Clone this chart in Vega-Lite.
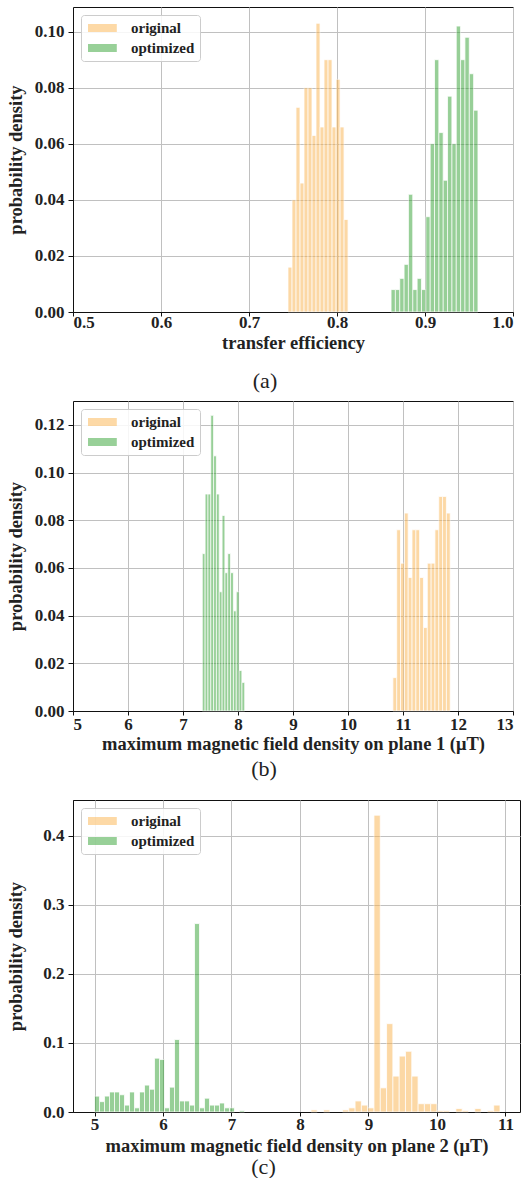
{
  "$schema": "https://vega.github.io/schema/vega-lite/v6.json",
  "padding": {"left": 5, "top": 6, "right": 0, "bottom": 0},
  "background": "white",
  "datasets": {
    "a": [
      {"series": "original", "x0": 0.74430, "x1": 0.74885, "density": 0.016},
      {"series": "original", "x0": 0.74885, "x1": 0.75340, "density": 0.040},
      {"series": "original", "x0": 0.75340, "x1": 0.75795, "density": 0.073},
      {"series": "original", "x0": 0.75795, "x1": 0.76250, "density": 0.046},
      {"series": "original", "x0": 0.76250, "x1": 0.76705, "density": 0.080},
      {"series": "original", "x0": 0.76705, "x1": 0.77160, "density": 0.080},
      {"series": "original", "x0": 0.77160, "x1": 0.77615, "density": 0.063},
      {"series": "original", "x0": 0.77615, "x1": 0.78070, "density": 0.103},
      {"series": "original", "x0": 0.78070, "x1": 0.78525, "density": 0.066},
      {"series": "original", "x0": 0.78525, "x1": 0.78980, "density": 0.090},
      {"series": "original", "x0": 0.78980, "x1": 0.79435, "density": 0.090},
      {"series": "original", "x0": 0.79435, "x1": 0.79890, "density": 0.066},
      {"series": "original", "x0": 0.79890, "x1": 0.80345, "density": 0.083},
      {"series": "original", "x0": 0.80345, "x1": 0.80800, "density": 0.066},
      {"series": "original", "x0": 0.80800, "x1": 0.81255, "density": 0.033},
      {"series": "optimized", "x0": 0.86140, "x1": 0.86634, "density": 0.008},
      {"series": "optimized", "x0": 0.86634, "x1": 0.87128, "density": 0.008},
      {"series": "optimized", "x0": 0.87128, "x1": 0.87622, "density": 0.012},
      {"series": "optimized", "x0": 0.87622, "x1": 0.88116, "density": 0.017},
      {"series": "optimized", "x0": 0.88116, "x1": 0.88610, "density": 0.042},
      {"series": "optimized", "x0": 0.88610, "x1": 0.89104, "density": 0.008},
      {"series": "optimized", "x0": 0.89104, "x1": 0.89598, "density": 0.012},
      {"series": "optimized", "x0": 0.89598, "x1": 0.90092, "density": 0.008},
      {"series": "optimized", "x0": 0.90092, "x1": 0.90586, "density": 0.034},
      {"series": "optimized", "x0": 0.90586, "x1": 0.91080, "density": 0.060},
      {"series": "optimized", "x0": 0.91080, "x1": 0.91574, "density": 0.090},
      {"series": "optimized", "x0": 0.91574, "x1": 0.92068, "density": 0.064},
      {"series": "optimized", "x0": 0.92068, "x1": 0.92562, "density": 0.047},
      {"series": "optimized", "x0": 0.92562, "x1": 0.93056, "density": 0.077},
      {"series": "optimized", "x0": 0.93056, "x1": 0.93550, "density": 0.060},
      {"series": "optimized", "x0": 0.93550, "x1": 0.94044, "density": 0.102},
      {"series": "optimized", "x0": 0.94044, "x1": 0.94538, "density": 0.090},
      {"series": "optimized", "x0": 0.94538, "x1": 0.95032, "density": 0.098},
      {"series": "optimized", "x0": 0.95032, "x1": 0.95526, "density": 0.085},
      {"series": "optimized", "x0": 0.95526, "x1": 0.96020, "density": 0.072}
    ],
    "b": [
      {"series": "original", "x0": 10.8160, "x1": 10.8855, "density": 0.014},
      {"series": "original", "x0": 10.8855, "x1": 10.9550, "density": 0.076},
      {"series": "original", "x0": 10.9550, "x1": 11.0245, "density": 0.062},
      {"series": "original", "x0": 11.0245, "x1": 11.0940, "density": 0.083},
      {"series": "original", "x0": 11.0940, "x1": 11.1635, "density": 0.056},
      {"series": "original", "x0": 11.1635, "x1": 11.2330, "density": 0.076},
      {"series": "original", "x0": 11.2330, "x1": 11.3025, "density": 0.076},
      {"series": "original", "x0": 11.3025, "x1": 11.3720, "density": 0.056},
      {"series": "original", "x0": 11.3720, "x1": 11.4415, "density": 0.035},
      {"series": "original", "x0": 11.4415, "x1": 11.5110, "density": 0.062},
      {"series": "original", "x0": 11.5110, "x1": 11.5805, "density": 0.062},
      {"series": "original", "x0": 11.5805, "x1": 11.6500, "density": 0.076},
      {"series": "original", "x0": 11.6500, "x1": 11.7195, "density": 0.090},
      {"series": "original", "x0": 11.7195, "x1": 11.7890, "density": 0.090},
      {"series": "original", "x0": 11.7890, "x1": 11.8585, "density": 0.083},
      {"series": "optimized", "x0": 7.3500, "x1": 7.4015, "density": 0.066},
      {"series": "optimized", "x0": 7.4015, "x1": 7.4530, "density": 0.091},
      {"series": "optimized", "x0": 7.4530, "x1": 7.5045, "density": 0.091},
      {"series": "optimized", "x0": 7.5045, "x1": 7.5560, "density": 0.124},
      {"series": "optimized", "x0": 7.5560, "x1": 7.6075, "density": 0.107},
      {"series": "optimized", "x0": 7.6075, "x1": 7.6590, "density": 0.091},
      {"series": "optimized", "x0": 7.6590, "x1": 7.7105, "density": 0.050},
      {"series": "optimized", "x0": 7.7105, "x1": 7.7620, "density": 0.082},
      {"series": "optimized", "x0": 7.7620, "x1": 7.8135, "density": 0.058},
      {"series": "optimized", "x0": 7.8135, "x1": 7.8650, "density": 0.066},
      {"series": "optimized", "x0": 7.8650, "x1": 7.9165, "density": 0.058},
      {"series": "optimized", "x0": 7.9165, "x1": 7.9680, "density": 0.042},
      {"series": "optimized", "x0": 7.9680, "x1": 8.0195, "density": 0.050},
      {"series": "optimized", "x0": 8.0195, "x1": 8.0710, "density": 0.017},
      {"series": "optimized", "x0": 8.0710, "x1": 8.1225, "density": 0.012}
    ],
    "c": [
      {"series": "original", "x0": 8.160, "x1": 8.252, "density": 0.003},
      {"series": "original", "x0": 8.344, "x1": 8.436, "density": 0.003},
      {"series": "original", "x0": 8.620, "x1": 8.712, "density": 0.003},
      {"series": "original", "x0": 8.712, "x1": 8.804, "density": 0.006},
      {"series": "original", "x0": 8.804, "x1": 8.896, "density": 0.016},
      {"series": "original", "x0": 8.896, "x1": 8.988, "density": 0.010},
      {"series": "original", "x0": 8.988, "x1": 9.080, "density": 0.006},
      {"series": "original", "x0": 9.080, "x1": 9.172, "density": 0.430},
      {"series": "original", "x0": 9.172, "x1": 9.264, "density": 0.035},
      {"series": "original", "x0": 9.264, "x1": 9.356, "density": 0.128},
      {"series": "original", "x0": 9.356, "x1": 9.448, "density": 0.052},
      {"series": "original", "x0": 9.448, "x1": 9.540, "density": 0.081},
      {"series": "original", "x0": 9.540, "x1": 9.632, "density": 0.088},
      {"series": "original", "x0": 9.632, "x1": 9.724, "density": 0.052},
      {"series": "original", "x0": 9.724, "x1": 9.816, "density": 0.012},
      {"series": "original", "x0": 9.816, "x1": 9.908, "density": 0.012},
      {"series": "original", "x0": 9.908, "x1": 10.000, "density": 0.012},
      {"series": "original", "x0": 10.000, "x1": 10.092, "density": 0.002},
      {"series": "original", "x0": 10.092, "x1": 10.184, "density": 0.002},
      {"series": "original", "x0": 10.276, "x1": 10.368, "density": 0.005},
      {"series": "original", "x0": 10.368, "x1": 10.460, "density": 0.002},
      {"series": "original", "x0": 10.552, "x1": 10.644, "density": 0.005},
      {"series": "original", "x0": 10.736, "x1": 10.828, "density": 0.002},
      {"series": "original", "x0": 10.828, "x1": 10.920, "density": 0.010},
      {"series": "optimized", "x0": 5.000, "x1": 5.073, "density": 0.023},
      {"series": "optimized", "x0": 5.073, "x1": 5.146, "density": 0.015},
      {"series": "optimized", "x0": 5.146, "x1": 5.219, "density": 0.023},
      {"series": "optimized", "x0": 5.219, "x1": 5.292, "density": 0.029},
      {"series": "optimized", "x0": 5.292, "x1": 5.365, "density": 0.029},
      {"series": "optimized", "x0": 5.365, "x1": 5.438, "density": 0.025},
      {"series": "optimized", "x0": 5.438, "x1": 5.511, "density": 0.010},
      {"series": "optimized", "x0": 5.511, "x1": 5.584, "density": 0.029},
      {"series": "optimized", "x0": 5.584, "x1": 5.657, "density": 0.006},
      {"series": "optimized", "x0": 5.657, "x1": 5.730, "density": 0.029},
      {"series": "optimized", "x0": 5.730, "x1": 5.803, "density": 0.039},
      {"series": "optimized", "x0": 5.803, "x1": 5.876, "density": 0.033},
      {"series": "optimized", "x0": 5.876, "x1": 5.949, "density": 0.078},
      {"series": "optimized", "x0": 5.949, "x1": 6.022, "density": 0.076},
      {"series": "optimized", "x0": 6.022, "x1": 6.095, "density": 0.006},
      {"series": "optimized", "x0": 6.095, "x1": 6.168, "density": 0.036},
      {"series": "optimized", "x0": 6.168, "x1": 6.241, "density": 0.105},
      {"series": "optimized", "x0": 6.241, "x1": 6.314, "density": 0.016},
      {"series": "optimized", "x0": 6.314, "x1": 6.387, "density": 0.016},
      {"series": "optimized", "x0": 6.387, "x1": 6.460, "density": 0.010},
      {"series": "optimized", "x0": 6.460, "x1": 6.533, "density": 0.273},
      {"series": "optimized", "x0": 6.533, "x1": 6.606, "density": 0.006},
      {"series": "optimized", "x0": 6.606, "x1": 6.679, "density": 0.020},
      {"series": "optimized", "x0": 6.679, "x1": 6.752, "density": 0.010},
      {"series": "optimized", "x0": 6.752, "x1": 6.825, "density": 0.010},
      {"series": "optimized", "x0": 6.825, "x1": 6.898, "density": 0.013},
      {"series": "optimized", "x0": 6.898, "x1": 6.971, "density": 0.006},
      {"series": "optimized", "x0": 6.971, "x1": 7.044, "density": 0.006},
      {"series": "optimized", "x0": 7.117, "x1": 7.190, "density": 0.002}
    ]
  },
  "vconcat": [
    {
      "width": 440, "height": 305,
      "data": {"name": "a"},
      "title": {"text": "(a)", "orient": "bottom", "dx": -28, "offset": 19},
      "mark": {"type": "bar", "stroke": "white", "strokeWidth": 0.8, "opacity": 0.5},
      "encoding": {
        "x": {"field": "x0", "type": "quantitative",
              "scale": {"domain": [0.5, 1.0], "nice": false, "zero": false},
              "axis": {"title": "transfer efficiency", "values": [0.5, 0.6, 0.7, 0.8, 0.9, 1.0], "format": ".1f", "labelPadding": -2, "titleY": 36, "titleBaseline": "alphabetic"}},
        "x2": {"field": "x1"},
        "y": {"field": "density", "type": "quantitative",
              "scale": {"domain": [0, 0.1088], "nice": false},
              "axis": {"title": "probability density", "values": [0, 0.02, 0.04, 0.06, 0.08, 0.10], "format": ".2f", "titleX": -48}},
        "y2": {"datum": 0},
        "color": {"field": "series", "type": "nominal",
                  "scale": {"domain": ["original", "optimized"], "range": ["#FBB34D", "#31A131"]},
                  "legend": {"title": null}}
      }
    },
    {
      "width": 440, "height": 310,
      "data": {"name": "b"},
      "title": {"text": "(b)", "orient": "bottom", "dx": -29, "offset": 6},
      "mark": {"type": "bar", "stroke": "white", "strokeWidth": 0.8, "opacity": 0.5},
      "encoding": {
        "x": {"field": "x0", "type": "quantitative",
              "scale": {"domain": [5, 13], "nice": false, "zero": false},
              "axis": {"title": "maximum magnetic field density on plane 1 (μT)", "values": [5, 6, 7, 8, 9, 10, 11, 12, 13], "format": "d", "labelPadding": 1, "titleY": 38, "titleBaseline": "alphabetic"}},
        "x2": {"field": "x1"},
        "y": {"field": "density", "type": "quantitative",
              "scale": {"domain": [0, 0.13], "nice": false},
              "axis": {"title": "probability density", "values": [0, 0.02, 0.04, 0.06, 0.08, 0.10, 0.12], "format": ".2f", "titleX": -48}},
        "y2": {"datum": 0},
        "color": {"field": "series", "type": "nominal",
                  "scale": {"domain": ["original", "optimized"], "range": ["#FBB34D", "#31A131"]},
                  "legend": {"title": null}}
      }
    },
    {
      "width": 447, "height": 312,
      "data": {"name": "c"},
      "title": {"text": "(c)", "orient": "bottom", "dx": -33, "offset": 2},
      "mark": {"type": "bar", "stroke": "white", "strokeWidth": 0.8, "opacity": 0.5},
      "encoding": {
        "x": {"field": "x0", "type": "quantitative",
              "scale": {"domain": [4.686, 11.212], "nice": false, "zero": false},
              "axis": {"title": "maximum magnetic field density on plane 2 (μT)", "values": [5, 6, 7, 8, 9, 10, 11], "format": "d", "labelPadding": 0, "titleY": 39, "titleBaseline": "alphabetic"}},
        "x2": {"field": "x1"},
        "y": {"field": "density", "type": "quantitative",
              "scale": {"domain": [0, 0.452], "nice": false},
              "axis": {"title": "probability density", "values": [0, 0.1, 0.2, 0.3, 0.4], "format": ".1f", "titleX": -48}},
        "y2": {"datum": 0},
        "color": {"field": "series", "type": "nominal",
                  "scale": {"domain": ["original", "optimized"], "range": ["#FBB34D", "#31A131"]},
                  "legend": {"title": null}}
      }
    }
  ],
  "spacing": 89,
  "bounds": "flush",
  "resolve": {"scale": {"color": "independent"}, "legend": {"color": "independent"}},
  "config": {
    "font": "Liberation Serif",
    "view": {"stroke": "#111111", "strokeWidth": 1},
    "axis": {
      "labelFont": "Liberation Serif", "labelFontWeight": "bold", "labelFontSize": 17, "labelColor": "#222222",
      "titleFont": "Liberation Serif", "titleFontWeight": "bold", "titleFontSize": 18.5, "titleColor": "#222222",
      "domainColor": "#111111", "tickColor": "#111111", "tickSize": 4,
      "gridColor": "#c0c0c0", "gridWidth": 1, "gridOpacity": 1
    },
    "axisY": {"labelPadding": 4, "tickSize": 5},
    "legend": {
      "orient": "top-left", "offset": 8, "padding": 5,
      "fillColor": "rgba(255,255,255,0.85)", "strokeColor": "#cccccc", "cornerRadius": 3,
      "labelFont": "Liberation Serif", "labelFontWeight": "bold", "labelFontSize": 15, "labelColor": "#222222",
      "symbolType": "M-0.75,-0.5H2.85V0.5H-0.75Z", "symbolSize": 256, "symbolStrokeWidth": 0, "symbolOpacity": 0.5,
      "rowPadding": 4, "labelOffset": 29
    },
    "title": {"font": "Liberation Serif", "fontSize": 22, "fontWeight": "normal", "color": "#222222"}
  }
}
